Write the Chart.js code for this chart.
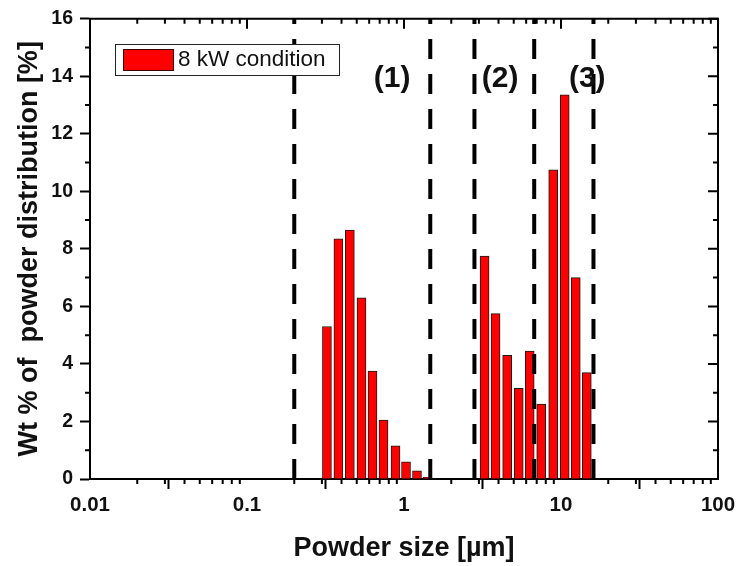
<!DOCTYPE html>
<html>
<head>
<meta charset="utf-8">
<script src="https://cdn.jsdelivr.net/npm/chart.js@4.4.1/dist/chart.umd.min.js"></script>
<style>
  html, body { margin: 0; padding: 0; background: #fff; }
  #wrap { width: 740px; height: 566px; }
</style>
</head>
<body>
<div id="wrap"><canvas id="c" width="740" height="566"></canvas></div>
<script>
// ---- data ----
const binSizes   = [0.323, 0.382, 0.452, 0.536, 0.630, 0.740, 0.883, 1.03, 1.21, 1.41,
                    3.26, 3.83, 4.54, 5.38, 6.32, 7.48, 8.92, 10.56, 12.42, 14.6];
const wtPercent  = [5.3, 8.35, 8.65, 6.3, 3.75, 2.05, 1.15, 0.6, 0.28, 0.06,
                    7.75, 5.75, 4.3, 3.15, 4.45, 2.6, 10.75, 13.35, 7.0, 3.7];
const seriesLabel = '8 kW condition';
const dividerSizes = [0.2, 1.47, 2.81, 6.75, 16.1];
const regionLabels = ['(1)', '(2)', '(3)'];
const regionLabelX = [0.84, 4.1, 14.7];
const regionLabelY = 13.9;
const xMajorTicks = [0.01, 0.1, 1, 10, 100];
const xMinorMult  = [2, 3, 4, 5, 6, 7, 8, 9];
const yMin = 0, yMax = 16, yStep = 2, yMinorStep = 1;
const xTitle = 'Powder size [\u00B5m]';
const yTitle = 'Wt % of  powder distribution [%]';

const FONT = '"Liberation Sans", Arial, Helvetica, sans-serif';

const datasets = [];
dividerSizes.forEach(d => {
  datasets.push({
    type: 'line',
    label: 'divider',
    data: [{x: d, y: yMin}, {x: d, y: yMax}],
    borderColor: '#000',
    borderWidth: 4,
    borderDash: [20, 15],
    pointRadius: 0,
    fill: false,
    order: 0
  });
});
datasets.push({
  type: 'bar',
  label: seriesLabel,
  data: binSizes.map((s, i) => ({x: s, y: wtPercent[i]})),
  backgroundColor: '#ff0000',
  borderColor: '#1a1a1a',
  borderWidth: 1,
  barThickness: 9,
  order: 1
});

const overlayPlugin = {
  id: 'overlay',
  afterDatasetsDraw(chart) {
    const {ctx, scales: {x, y}} = chart;
    ctx.save();
    ctx.fillStyle = '#111';
    ctx.font = 'bold 30px ' + FONT;
    ctx.textAlign = 'center';
    ctx.textBaseline = 'middle';
    regionLabels.forEach((t, i) => {
      ctx.fillText(t, x.getPixelForValue(regionLabelX[i]), y.getPixelForValue(regionLabelY));
    });
    const bar = chart.data.datasets.find(d => d.type === 'bar');
    ctx.fillStyle = '#fff';
    ctx.fillRect(115, 44, 224, 31);
    ctx.strokeStyle = '#222';
    ctx.lineWidth = 1;
    ctx.strokeRect(115.5, 44.5, 224, 31);
    ctx.fillStyle = bar.backgroundColor;
    ctx.fillRect(123, 49, 50, 21);
    ctx.strokeStyle = '#3a0000';
    ctx.strokeRect(123.5, 49.5, 50, 21);
    ctx.fillStyle = '#111';
    ctx.font = '22.5px ' + FONT;
    ctx.textAlign = 'left';
    ctx.textBaseline = 'middle';
    ctx.fillText(bar.label, 178, 60);
    ctx.restore();
  },
  afterDraw(chart) {
    const {ctx, chartArea: a, scales: {x, y}} = chart;
    ctx.save();
    ctx.strokeStyle = '#000';
    ctx.lineWidth = 2;
    ctx.beginPath();
    ctx.moveTo(a.left - 1, a.top);
    ctx.lineTo(a.right, a.top);
    ctx.lineTo(a.right, a.bottom + 1);
    ctx.stroke();
    ctx.beginPath();
    xMajorTicks.forEach((m, i) => {
      const px = x.getPixelForValue(m);
      ctx.moveTo(px, a.top); ctx.lineTo(px, a.top + 10);
      if (i < xMajorTicks.length - 1) {
        xMinorMult.forEach(k => {
          const p = x.getPixelForValue(m * k);
          ctx.moveTo(p, a.bottom); ctx.lineTo(p, a.bottom + 5);
          ctx.moveTo(p, a.top); ctx.lineTo(p, a.top + 5);
        });
      }
    });
    for (let v = yMin; v <= yMax; v += yMinorStep) {
      const py = y.getPixelForValue(v);
      const major = (v % yStep) === 0;
      if (!major) { ctx.moveTo(a.left, py); ctx.lineTo(a.left - 5, py); }
      ctx.moveTo(a.right, py); ctx.lineTo(a.right - (major ? 10 : 5), py);
    }
    ctx.stroke();
    ctx.restore();
  }
};

new Chart(document.getElementById('c'), {
  type: 'bar',
  data: { datasets },
  options: {
    responsive: false,
    animation: false,
    layout: { padding: { top: 15, right: 22, left: 0, bottom: 0 } },
    plugins: { legend: { display: false }, tooltip: { enabled: false } },
    scales: {
      x: {
        type: 'logarithmic',
        min: 0.01, max: 100,
        afterBuildTicks(scale) { scale.ticks = xMajorTicks.map(v => ({value: v})); },
        afterFit(scale) { scale.height = 87; },
        ticks: {
          color: '#111',
          font: { family: FONT, size: 20.5, weight: 'bold' },
          padding: 4,
          maxRotation: 0,
          autoSkip: false,
          callback: v => String(v)
        },
        grid: { display: true, drawOnChartArea: false, drawTicks: true, tickLength: 10, tickWidth: 2, tickColor: '#000' },
        border: { display: true, color: '#000', width: 2 },
        title: { display: true, text: xTitle, color: '#111', font: { family: FONT, size: 27, weight: 'bold' }, padding: { top: 0, bottom: 1 } }
      },
      y: {
        type: 'linear',
        min: yMin, max: yMax,
        afterFit(scale) { scale.width = 90; },
        ticks: {
          stepSize: yStep,
          color: '#111',
          font: { family: FONT, size: 19.5, weight: 'bold' },
          padding: 7
        },
        grid: { display: true, drawOnChartArea: false, drawTicks: true, tickLength: 10, tickWidth: 2, tickColor: '#000' },
        border: { display: true, color: '#000', width: 2 },
        title: { display: true, text: yTitle, color: '#111', font: { family: FONT, size: 27, weight: 'bold' }, padding: { top: 13, bottom: 0 } }
      }
    }
  },
  plugins: [overlayPlugin]
});
</script>
</body>
</html>
